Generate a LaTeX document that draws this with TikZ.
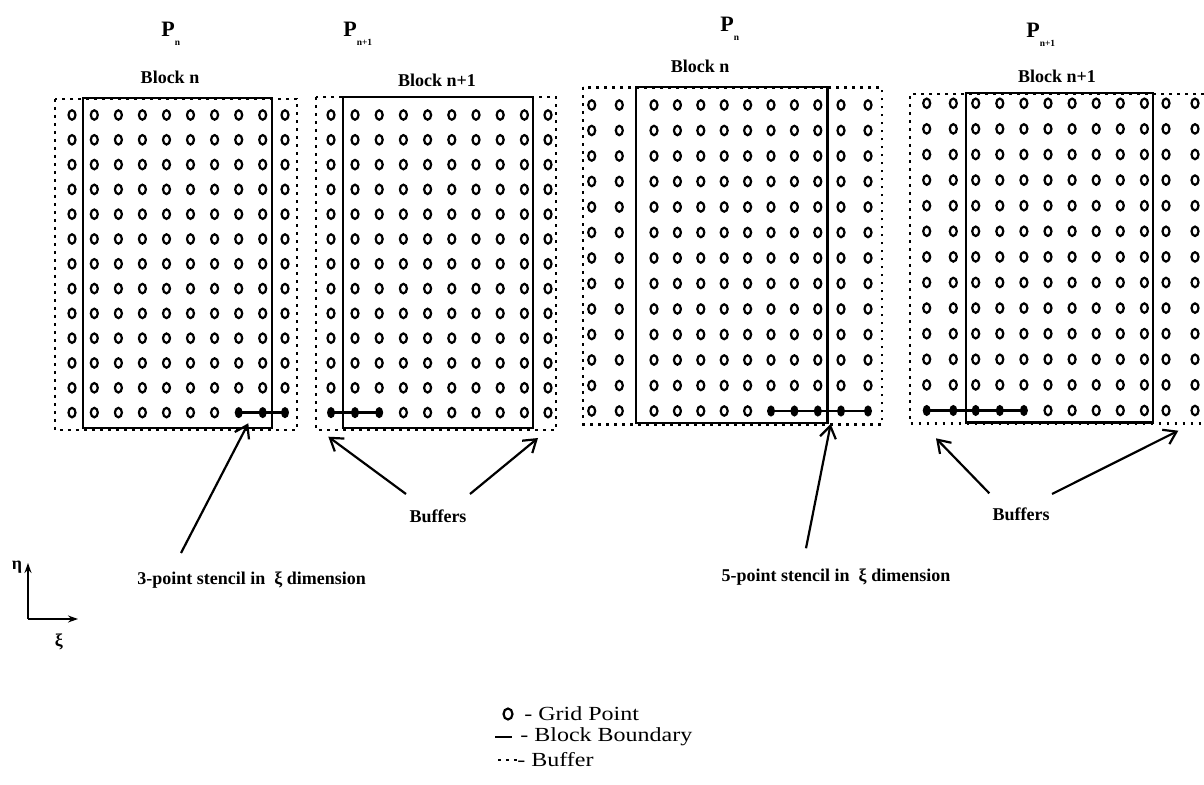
\documentclass[tikz,border=0pt]{standalone}
\usepackage{fontspec}
\usepackage{graphicx}
\setmainfont{Liberation Serif}
\usetikzlibrary{arrows.meta}
\newcommand{\procname}[1]{P\raisebox{-4.5pt}{\fontsize{4.7}{5}\selectfont #1}}
\newcommand{\legendtext}[1]{\scalebox{1.2}[1]{#1}}
\begin{document}
\begin{tikzpicture}[x=0.5pt,y=-0.5pt,font=\bfseries\fontsize{9}{11}\selectfont,
        gridpt/.style={line width=1.1pt,x radius=3.5,y radius=4.7},
        fullpt/.style={x radius=4,y radius=5.6},
        block/.style={line width=1.2pt},
        buffer/.style={line width=1.3pt,dash pattern=on 1.3pt off 2.7pt},
        stencil/.style={line width=1.2pt},
        arr/.style={line width=1.1pt,-{Straight Barb[length=6pt,width=8pt,line width=1.1pt]}},
        axisarr/.style={line width=0.9pt,-{Stealth[length=5pt,width=3.5pt]}},
        legend/.style={font=\normalfont\fontsize{10}{11}\selectfont,anchor=west,inner sep=0pt}]
    \fill[white] (0,0) rectangle (1204,785);
    \useasboundingbox (0,0) rectangle (1204,785);
    % left half, block n
    \draw[buffer] (55,99) rectangle (297,430);
    \draw[block] (83,98) rectangle (272,428);
    \foreach \j in {0,...,11}
        \foreach \x in {72,94.3,118.4,142.4,166.5,190.5,214.6,238.7,262.7,285}
            \draw[gridpt] (\x,{115+24.8*\j}) circle;
    \foreach \x in {72,94.3,118.4,142.4,166.5,190.5,214.6}
        \draw[gridpt] (\x,412.6) circle;
    \draw[stencil] (238.7,412.6) -- (285,412.6);
    \foreach \x in {238.7,262.7,285}
        \fill[fullpt] (\x,412.6) circle;
    % left half, block n+1
    \draw[buffer] (316,97) rectangle (556,430);
    \draw[block] (343,97) rectangle (533,428);
    \foreach \j in {0,...,11}
        \foreach \x in {331,355,379.2,403.4,427.6,451.8,476,500.2,524.4,548}
            \draw[gridpt] (\x,{115+24.8*\j}) circle;
    \foreach \x in {403.4,427.6,451.8,476,500.2,524.4,548}
        \draw[gridpt] (\x,412.6) circle;
    \draw[stencil] (331,412.6) -- (379.2,412.6);
    \foreach \x in {331,355,379.2}
        \fill[fullpt] (\x,412.6) circle;
    % right half, block n
    \draw[buffer] (583,87.3) rectangle (882,424.3);
    \draw[block] (636,87.3) rectangle (827.3,423.3);
    \foreach \j in {0,...,11}
        \foreach \x in {591.7,619.3,654,677.4,700.8,724.2,747.6,771,794.4,817.8,841,868}
            \draw[gridpt] (\x,{105+25.5*\j}) circle;
    \foreach \x in {591.7,619.3,654,677.4,700.8,724.2,747.6}
        \draw[gridpt] (\x,411) circle;
    \draw[stencil] (771,411) -- (868,411);
    \foreach \x in {771,794.4,817.8,841,868}
        \fill[fullpt] (\x,411) circle;
    % right half, block n+1
    \draw[buffer] (1204,94) -- (910,94) -- (910,423.3) -- (1204,423.3);
    \draw[block] (966,93.3) rectangle (1153,422.7);
    \foreach \j in {0,...,11}
        \foreach \x in {926.7,953.3,975.7,999.8,1023.9,1048,1072.1,1096.2,1120.3,1144.4,1166,1195}
            \draw[gridpt] (\x,{103.3+25.6*\j}) circle;
    \foreach \x in {1048,1072.1,1096.2,1120.3,1144.4,1166,1195}
        \draw[gridpt] (\x,410.5) circle;
    \draw[stencil] (926.7,410.5) -- (1023.9,410.5);
    \foreach \x in {926.7,953.3,975.7,999.8,1023.9}
        \fill[fullpt] (\x,410.5) circle;
    % labels
    \node[anchor=base west,inner sep=0pt,font=\bfseries\fontsize{11}{12}\selectfont] (pA) at (161,37) {\procname{n}};
    \node[anchor=base west,inner sep=0pt,font=\bfseries\fontsize{11}{12}\selectfont] (pB) at (343,37) {\procname{n+1}};
    \node[anchor=base west,inner sep=0pt,font=\bfseries\fontsize{11}{12}\selectfont] (pC) at (720,32) {\procname{n}};
    \node[anchor=base west,inner sep=0pt,font=\bfseries\fontsize{11}{12}\selectfont] (pD) at (1026,38) {\procname{n+1}};
    \node (blkA) at (170,77) {Block n};
    \node (blkB) at (437,80) {Block n+1};
    \node (blkC) at (700,66) {Block n};
    \node (blkD) at (1057,76) {Block n+1};
    \node (stenA) at (251.7,580) {3-point stencil in\ \ ξ dimension};
    \node (bufB) at (438,516) {Buffers};
    \node (stenC) at (836,577) {5-point stencil in\ \ ξ dimension};
    \node (bufD) at (1021,514) {Buffers};
    % arrows
    \coordinate (tailA) at (181,553);
    \coordinate (tipA) at (248.3,423.3);
    \coordinate (tailB1) at (406,494);
    \coordinate (tipB1) at (328.3,436.7);
    \coordinate (tailB2) at (470,494);
    \coordinate (tipB2) at (538,438);
    \coordinate (tailC) at (806,548.3);
    \coordinate (tipC) at (830.7,424);
    \coordinate (tailD1) at (989.3,493.3);
    \coordinate (tipD1) at (936,438.3);
    \coordinate (tailD2) at (1052,494);
    \coordinate (tipD2) at (1178.3,430.7);
    \draw[arr] (tailA) -- (tipA);
    \draw[arr] (tailB1) -- (tipB1);
    \draw[arr] (tailB2) -- (tipB2);
    \draw[arr] (tailC) -- (tipC);
    \draw[arr] (tailD1) -- (tipD1);
    \draw[arr] (tailD2) -- (tipD2);
    % axes
    \coordinate (orig) at (28,619);
    \coordinate (etaend) at (28,563);
    \coordinate (xiend) at (78,619);
    \draw[axisarr] (orig) -- (etaend);
    \draw[axisarr] (orig) -- (xiend);
    \node (eta) at (17,567) {η};
    \node (xi) at (59,642) {ξ};
    % legend
    \draw[gridpt,x radius=4.5,y radius=5.5] (508,714) circle;
    \node[legend] (lgrid) at (524,714) {\legendtext{- Grid Point}};
    \draw[block] (495,737) -- (512,737);
    \node[legend] (lblock) at (520,737) {\legendtext{- Block Boundary}};
    \draw[buffer] (498,760) -- (517,760);
    \node[legend] (lbuf) at (517,760) {\legendtext{- Buffer}};
\end{tikzpicture}
\end{document}
